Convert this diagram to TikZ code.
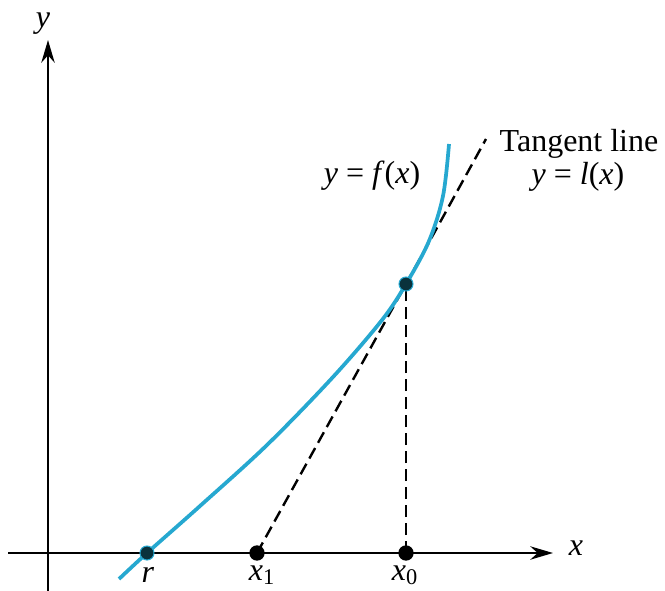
\documentclass[tikz,border=0pt]{standalone}
\usepackage{fontspec}
\setmainfont{Liberation Serif}
\usetikzlibrary{arrows.meta}
\definecolor{curveblue}{RGB}{38,168,208}
\definecolor{dotdark}{RGB}{10,50,60}
\tikzset{
  axis/.style={line width=1.9pt,-{Stealth[length=17pt,width=10pt]}},
  fcurve/.style={curveblue,line width=2.8pt},
  tanline/.style={line width=1.8pt,dash pattern=on 9pt off 4.5pt},
  blackdot/.style={circle,fill=black,inner sep=0pt,minimum size=11.5pt},
  tealdot/.style={circle,fill=dotdark,draw=curveblue,line width=0.8pt,inner sep=0pt,minimum size=10.5pt},
  lbl/.style={font=\fontsize{24}{28}\selectfont,inner sep=0pt},
}
\begin{document}
\begin{tikzpicture}[x=0.75pt,y=-0.75pt]
\useasboundingbox (0,0) rectangle (665,590);
% axes
\coordinate (xs) at (8,553);
\coordinate (xe) at (553,553);
\coordinate (ys) at (48,592);
\coordinate (ye) at (48,40);
\draw[axis] (xs) -- (xe);
\draw[axis] (ys) -- (ye);
\node[lbl,font=\fontsize{24}{28}\selectfont\itshape] (ylab) at (43,24) {y};
\node[lbl,font=\fontsize{24}{28}\selectfont\itshape] (xlab) at (576,548) {x};
% points
\coordinate (T) at (406,284);
\coordinate (tanEnd) at (486,139);
\node[blackdot] (x1) at (257,553) {};
\node[blackdot] (x0) at (406,553) {};
% tangent and vertical
\draw[tanline] (x1.center) -- (T) -- (tanEnd);
\draw[tanline] (x0.center) -- (T);
% curve
\draw[fcurve] plot[smooth,tension=0.55] coordinates {(119,579) (147,553) (200,506) (267,445) (333,377) (382,320) (406,284) (429,241) (443,196) (449,144)};
\node[tealdot] (r) at (147,553) {};
\node[tealdot] (Tdot) at (T) {};
% labels
\node[lbl,anchor=base] (rlab) at (148,582) {\textit{r}};
\node[lbl,anchor=base] (x1lab) at (262,580) {\textit{x}\textsubscript{1}};
\node[lbl,anchor=base] (x0lab) at (405,580) {\textit{x}\textsubscript{0}};
\node[lbl,anchor=base] (flab) at (372,183) {\textit{y} = \textit{f}(\textit{x})};
\node[lbl,anchor=base] (tlab) at (579,151) {Tangent line};
\node[lbl,anchor=base] (llab) at (578,184) {\textit{y} = \textit{l}(\textit{x})};
\end{tikzpicture}
\end{document}
